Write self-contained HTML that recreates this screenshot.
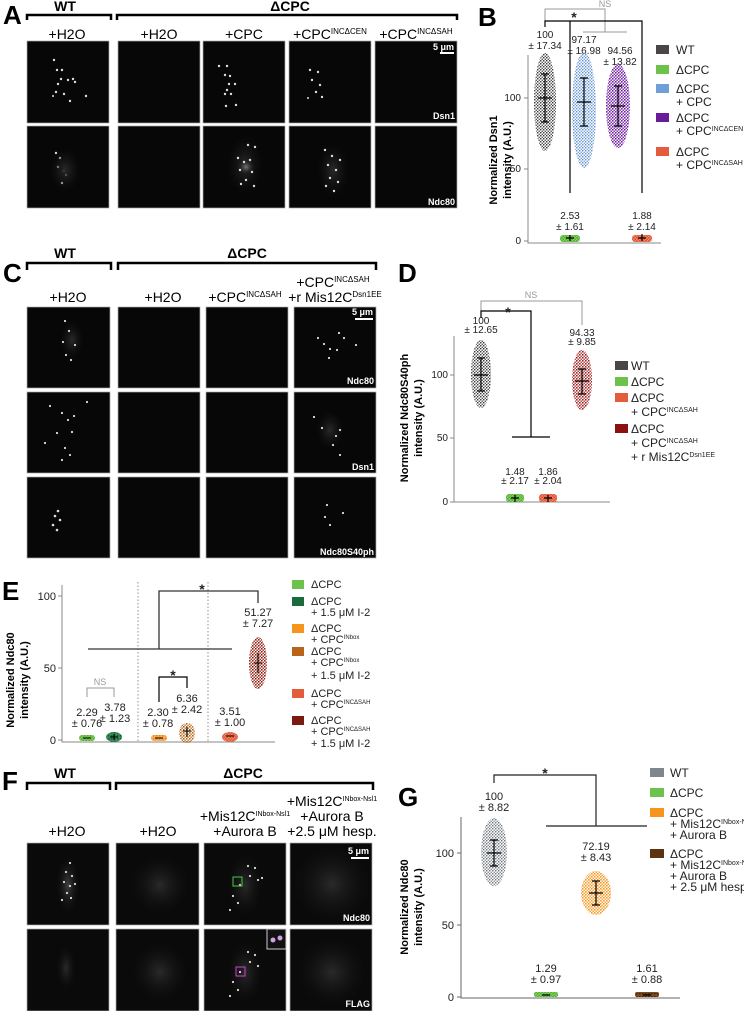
<!DOCTYPE html>
<html><head><meta charset="utf-8"><style>
html,body{margin:0;padding:0;background:#fff;}
svg{display:block;font-family:"Liberation Sans Narrow","Liberation Sans",sans-serif;}
</style></head><body>
<svg width="744" height="1011" viewBox="0 0 744 1011" xmlns="http://www.w3.org/2000/svg">
<defs>
<pattern id="pWT" width="3" height="3" patternUnits="userSpaceOnUse"><circle cx="0.75" cy="0.75" r="0.8" fill="#333"/><circle cx="2.25" cy="2.25" r="0.8" fill="#555"/></pattern>
<pattern id="pGR" width="3" height="3" patternUnits="userSpaceOnUse"><rect width="3" height="3" fill="#8ed06f"/><circle cx="0.75" cy="0.75" r="0.9" fill="#4fb02c"/><circle cx="2.25" cy="2.25" r="0.9" fill="#4fb02c"/></pattern>
<pattern id="pBL" width="3" height="3" patternUnits="userSpaceOnUse"><circle cx="0.75" cy="0.75" r="0.8" fill="#5b8fd0"/><circle cx="2.25" cy="2.25" r="0.8" fill="#7aa4dc"/></pattern>
<pattern id="pPU" width="3" height="3" patternUnits="userSpaceOnUse"><circle cx="0.75" cy="0.75" r="0.9" fill="#6a1b9a"/><circle cx="2.25" cy="2.25" r="0.9" fill="#8a3aba"/></pattern>
<pattern id="pOR" width="3" height="3" patternUnits="userSpaceOnUse"><rect width="3" height="3" fill="#f08a70"/><circle cx="0.75" cy="0.75" r="0.9" fill="#e0502e"/><circle cx="2.25" cy="2.25" r="0.9" fill="#e0502e"/></pattern>
<pattern id="pDR" width="3" height="3" patternUnits="userSpaceOnUse"><circle cx="0.75" cy="0.75" r="0.9" fill="#9a1f1f"/><circle cx="2.25" cy="2.25" r="0.9" fill="#c05050"/></pattern>
<pattern id="pDG" width="3" height="3" patternUnits="userSpaceOnUse"><rect width="3" height="3" fill="#3c8a5a"/><circle cx="0.75" cy="0.75" r="0.9" fill="#106030"/></pattern>
<pattern id="pIN" width="3" height="3" patternUnits="userSpaceOnUse"><rect width="3" height="3" fill="#fbb060"/><circle cx="0.75" cy="0.75" r="0.9" fill="#f08010"/></pattern>
<pattern id="pBR" width="3" height="3" patternUnits="userSpaceOnUse"><circle cx="0.75" cy="0.75" r="0.9" fill="#b0601a"/><circle cx="2.25" cy="2.25" r="0.9" fill="#d08a40"/></pattern>
<pattern id="pRB" width="3" height="3" patternUnits="userSpaceOnUse"><circle cx="0.75" cy="0.75" r="0.9" fill="#8a1a10"/><circle cx="2.25" cy="2.25" r="0.9" fill="#b04030"/></pattern>
<pattern id="pGG" width="3" height="3" patternUnits="userSpaceOnUse"><circle cx="0.75" cy="0.75" r="0.8" fill="#6a7078"/><circle cx="2.25" cy="2.25" r="0.8" fill="#8a9096"/></pattern>
<pattern id="pORG" width="3" height="3" patternUnits="userSpaceOnUse"><circle cx="0.75" cy="0.75" r="0.9" fill="#f7941d"/><circle cx="2.25" cy="2.25" r="0.9" fill="#f7a840"/></pattern>
<pattern id="pHB" width="3" height="3" patternUnits="userSpaceOnUse"><rect width="3" height="3" fill="#7a4a20"/><circle cx="0.75" cy="0.75" r="0.9" fill="#4a2808"/></pattern>
<radialGradient id="glow"><stop offset="0" stop-color="#777"/><stop offset="1" stop-color="#111" stop-opacity="0"/></radialGradient>
<radialGradient id="haze"><stop offset="0" stop-color="#2a2a2a"/><stop offset="1" stop-color="#111" stop-opacity="0"/></radialGradient>
</defs>

<g font-weight="bold" font-size="26" fill="#000" font-family="Liberation Sans, sans-serif">
<text x="3" y="24">A</text><text x="478" y="26">B</text><text x="3" y="282">C</text><text x="398" y="282">D</text><text x="2" y="600">E</text><text x="2" y="790">F</text><text x="398" y="806">G</text>
</g>

<!-- Panel A -->
<g font-size="14" text-anchor="middle">
<text x="65" y="11" font-weight="bold">WT</text><text x="290" y="11" font-weight="bold">ΔCPC</text>
<path d="M27 20 V15 H111 V20 M117 20 V15 H457 V20" fill="none" stroke="#000" stroke-width="2.5"/>
<text x="67" y="39">+H2O</text><text x="159" y="39">+H2O</text><text x="244" y="39">+CPC</text>
<text x="330" y="39">+CPC<tspan font-size="8" dy="-5">INCΔCEN</tspan></text>
<text x="416" y="39">+CPC<tspan font-size="8" dy="-5">INCΔSAH</tspan></text>
</g>
<g fill="#070707" stroke="#aaa" stroke-width="0.7">
<rect x="27" y="41" width="82" height="82"/><rect x="118" y="41" width="82" height="82"/><rect x="203" y="41" width="82" height="82"/><rect x="289" y="41" width="82" height="82"/><rect x="375" y="41" width="82" height="82"/>
<rect x="27" y="126" width="82" height="82"/><rect x="118" y="126" width="82" height="82"/><rect x="203" y="126" width="82" height="82"/><rect x="289" y="126" width="82" height="82"/><rect x="375" y="126" width="82" height="82"/>
</g>
<g fill="#ddd">
<circle cx="54" cy="60" r="1.2"/><circle cx="57" cy="70" r="1.2"/><circle cx="62" cy="70" r="1.2"/><circle cx="61" cy="79" r="1.2"/><circle cx="68" cy="80" r="1.2"/><circle cx="73" cy="79" r="1.2"/><circle cx="75" cy="82" r="1.2"/><circle cx="58" cy="84" r="1.2"/><circle cx="56" cy="92" r="1.2"/><circle cx="64" cy="94" r="1.2"/><circle cx="70" cy="101" r="1.2"/><circle cx="86" cy="96" r="1.2"/><circle cx="53" cy="96" r="1"/>
<circle cx="219" cy="66" r="1.2"/><circle cx="227" cy="66" r="1.2"/><circle cx="225" cy="75" r="1.2"/><circle cx="230" cy="76" r="1.2"/><circle cx="229" cy="84" r="1.2"/><circle cx="235" cy="84" r="1.2"/><circle cx="227" cy="90" r="1.2"/><circle cx="225" cy="94" r="1.2"/><circle cx="231" cy="94" r="1.2"/><circle cx="226" cy="106" r="1.2"/><circle cx="236" cy="105" r="1.2"/>
<circle cx="310" cy="70" r="1.2"/><circle cx="318" cy="72" r="1.2"/><circle cx="312" cy="80" r="1.2"/><circle cx="320" cy="85" r="1.2"/><circle cx="316" cy="92" r="1.2"/><circle cx="322" cy="97" r="1.2"/><circle cx="308" cy="98" r="1"/>
<circle cx="56" cy="153" r="1.2"/><circle cx="60" cy="158" r="1.2"/><circle cx="58" cy="167" r="1.2"/><circle cx="64" cy="171" r="1.2"/><circle cx="66" cy="175" r="1.2"/><circle cx="62" cy="183" r="1.2"/>
</g>
<ellipse cx="65" cy="170" rx="16" ry="22" fill="url(#haze)"/>
<ellipse cx="245" cy="165" rx="18" ry="30" fill="url(#haze)"/>
<ellipse cx="246" cy="167" rx="9" ry="8" fill="url(#glow)"/>
<ellipse cx="333" cy="170" rx="16" ry="28" fill="url(#haze)"/>
<g fill="#ddd">
<circle cx="238" cy="158" r="1.2"/><circle cx="244" cy="162" r="1.2"/><circle cx="250" cy="160" r="1.2"/><circle cx="240" cy="170" r="1.2"/><circle cx="252" cy="172" r="1.2"/><circle cx="246" cy="180" r="1.2"/><circle cx="254" cy="186" r="1.2"/><circle cx="241" cy="184" r="1.2"/><circle cx="248" cy="145" r="1.2"/><circle cx="255" cy="147" r="1.2"/>
<circle cx="325" cy="150" r="1.2"/><circle cx="332" cy="156" r="1.2"/><circle cx="328" cy="165" r="1.2"/><circle cx="336" cy="170" r="1.2"/><circle cx="330" cy="178" r="1.2"/><circle cx="338" cy="182" r="1.2"/><circle cx="326" cy="186" r="1.2"/><circle cx="334" cy="191" r="1.2"/><circle cx="340" cy="160" r="1.2"/>
</g>
<g fill="#fff" font-size="9" text-anchor="end" font-weight="bold">
<rect x="440" y="52" width="14" height="2"/><text x="454" y="50">5 μm</text>
<text x="455" y="119">Dsn1</text><text x="455" y="205">Ndc80</text>
</g>

<!-- Panel B -->
<g font-size="10" text-anchor="middle" fill="#222">
<path d="M545 21 V9 H605 V32 M583 32 H627" fill="none" stroke="#999" stroke-width="1"/>
<text x="605" y="7" fill="#999" font-size="9">NS</text>
<path d="M545 27 V21 H642 V193 M570 21 V193" fill="none" stroke="#000" stroke-width="1.2"/>
<text x="574" y="22" font-size="14" font-weight="bold">*</text>
<path d="M528 55 V243 H661" fill="none" stroke="#888" stroke-width="1"/>
<path d="M524 98 H528 M524 169 H528 M524 241 H528" stroke="#888"/>
<text x="521" y="101" text-anchor="end">100</text><text x="521" y="172" text-anchor="end">50</text><text x="521" y="244" text-anchor="end">0</text>
<text x="545" y="38">100</text><text x="545" y="49">± 17.34</text>
<text x="584" y="43">97.17</text><text x="584" y="54">± 16.98</text>
<text x="620" y="54">94.56</text><text x="620" y="65">± 13.82</text>
<text x="570" y="219">2.53</text><text x="570" y="230">± 1.61</text>
<text x="642" y="219">1.88</text><text x="642" y="230">± 2.14</text>
</g>
<ellipse cx="545" cy="102" rx="11" ry="49" fill="url(#pWT)"/>
<ellipse cx="584" cy="110" rx="12" ry="58" fill="url(#pBL)"/>
<ellipse cx="618" cy="106" rx="12" ry="42" fill="url(#pPU)"/>
<rect x="560" y="235" width="20" height="7" rx="3" fill="url(#pGR)"/>
<rect x="632" y="235" width="20" height="7" rx="3" fill="url(#pOR)"/>
<g stroke="#000" stroke-width="1.2" fill="none">
<path d="M545 74 V122 M541 74 H549 M541 122 H549 M538 98 H552"/>
<path d="M584 78 V126 M580 78 H588 M580 126 H588 M577 102 H591"/>
<path d="M618 86 V126 M614 86 H622 M614 126 H622 M611 106 H625"/>
<path d="M570 235 V241 M566 238 H574 M642 234 V241 M638 238 H646"/>
</g>
<g font-weight="bold" font-size="11" text-anchor="middle" font-family="Liberation Sans, sans-serif">
<text transform="translate(497,160) rotate(-90)">Normalized Dsn1</text>
<text transform="translate(511,160) rotate(-90)">intensity (A.U.)</text>
</g>
<g font-size="12" fill="#222">
<rect x="656" y="45" width="13" height="9" fill="#4a4548"/><text x="676" y="54">WT</text>
<rect x="656" y="65" width="13" height="9" fill="#6cc24a"/><text x="676" y="74">ΔCPC</text>
<rect x="656" y="84" width="13" height="9" fill="#6f9fd8"/><text x="676" y="93">ΔCPC</text><text x="676" y="106">+ CPC</text>
<rect x="656" y="113" width="13" height="9" fill="#6a1b9a"/><text x="676" y="122">ΔCPC</text><text x="676" y="135">+ CPC<tspan font-size="7" dy="-4">INCΔCEN</tspan></text>
<rect x="656" y="147" width="13" height="9" fill="#e35d3c"/><text x="676" y="156">ΔCPC</text><text x="676" y="169">+ CPC<tspan font-size="7" dy="-4">INCΔSAH</tspan></text>
</g>

<!-- Panel C -->
<g font-size="14" text-anchor="middle">
<text x="65" y="258" font-weight="bold">WT</text><text x="247" y="258" font-weight="bold">ΔCPC</text>
<path d="M27 270 V263 H111 V270 M118 270 V263 H376 V270" fill="none" stroke="#000" stroke-width="2.5"/>
<text x="68" y="302">+H2O</text><text x="163" y="302">+H2O</text>
<text x="245" y="302">+CPC<tspan font-size="8" dy="-5">INCΔSAH</tspan></text>
<text x="333" y="287">+CPC<tspan font-size="8" dy="-5">INCΔSAH</tspan></text>
<text x="335" y="302">+r Mis12C<tspan font-size="8" dy="-5">Dsn1EE</tspan></text>
</g>
<g fill="#070707" stroke="#aaa" stroke-width="0.7">
<rect x="27" y="307" width="83" height="81"/><rect x="118" y="307" width="82" height="81"/><rect x="206" y="307" width="82" height="81"/><rect x="294" y="307" width="82" height="81"/>
<rect x="27" y="392" width="83" height="81"/><rect x="118" y="392" width="82" height="81"/><rect x="206" y="392" width="82" height="81"/><rect x="294" y="392" width="82" height="81"/>
<rect x="27" y="477" width="83" height="81"/><rect x="118" y="477" width="82" height="81"/><rect x="206" y="477" width="82" height="81"/><rect x="294" y="477" width="82" height="81"/>
</g>
<ellipse cx="72" cy="340" rx="12" ry="20" fill="url(#haze)"/>
<ellipse cx="330" cy="430" rx="14" ry="20" fill="url(#haze)"/>
<g fill="#ddd">
<circle cx="65" cy="321" r="1.1"/><circle cx="69" cy="331" r="1.1"/><circle cx="63" cy="342" r="1.1"/><circle cx="75" cy="345" r="1.1"/><circle cx="66" cy="355" r="1.1"/><circle cx="71" cy="360" r="1.1"/>
<circle cx="318" cy="338" r="1.1"/><circle cx="324" cy="344" r="1.1"/><circle cx="339" cy="333" r="1.1"/><circle cx="344" cy="338" r="1.1"/><circle cx="330" cy="349" r="1.1"/><circle cx="337" cy="350" r="1.1"/><circle cx="329" cy="358" r="1.1"/><circle cx="356" cy="345" r="1.1"/>
<circle cx="50" cy="406" r="1.1"/><circle cx="62" cy="413" r="1.1"/><circle cx="68" cy="420" r="1.1"/><circle cx="74" cy="416" r="1.1"/><circle cx="87" cy="402" r="1.1"/><circle cx="57" cy="433" r="1.1"/><circle cx="72" cy="432" r="1.1"/><circle cx="45" cy="443" r="1.1"/><circle cx="65" cy="448" r="1.1"/><circle cx="70" cy="455" r="1.1"/><circle cx="62" cy="460" r="1.1"/>
<circle cx="314" cy="417" r="1.1"/><circle cx="322" cy="428" r="1.1"/><circle cx="336" cy="436" r="1.1"/><circle cx="340" cy="430" r="1.1"/><circle cx="333" cy="445" r="1.1"/><circle cx="340" cy="455" r="1.1"/>
<circle cx="58" cy="511" r="1.3"/><circle cx="55" cy="516" r="1.3"/><circle cx="60" cy="520" r="1.3"/><circle cx="53" cy="525" r="1.3"/><circle cx="57" cy="530" r="1.3"/>
<circle cx="327" cy="505" r="1.1"/><circle cx="325" cy="517" r="1.1"/><circle cx="330" cy="525" r="1.1"/><circle cx="343" cy="513" r="1.1"/>
</g>
<g fill="#fff" font-size="9" text-anchor="end" font-weight="bold">
<rect x="355" y="318" width="18" height="2"/><text x="373" y="315">5 μm</text>
<text x="374" y="384">Ndc80</text><text x="374" y="470">Dsn1</text><text x="374" y="555">Ndc80S40ph</text>
</g>

<!-- Panel D -->
<g font-size="10" text-anchor="middle" fill="#222">
<path d="M481 311 V301 H582 V325" fill="none" stroke="#999" stroke-width="1"/>
<text x="531" y="298" fill="#999" font-size="9">NS</text>
<path d="M481 318 V311 H531 V437 M512 437 H550" fill="none" stroke="#000" stroke-width="1.2"/>
<text x="508" y="317" font-size="14" font-weight="bold">*</text>
<path d="M454 336 V502 H610" fill="none" stroke="#888" stroke-width="1"/>
<path d="M450 375 H454 M450 438 H454 M450 502 H454" stroke="#888"/>
<text x="448" y="378" text-anchor="end">100</text><text x="448" y="441" text-anchor="end">50</text><text x="448" y="505" text-anchor="end">0</text>
<text x="481" y="324">100</text><text x="481" y="333">± 12.65</text>
<text x="582" y="336">94.33</text><text x="582" y="345">± 9.85</text>
<text x="515" y="475">1.48</text><text x="515" y="484">± 2.17</text>
<text x="548" y="475">1.86</text><text x="548" y="484">± 2.04</text>
</g>
<ellipse cx="481" cy="374" rx="10" ry="34" fill="url(#pWT)"/>
<ellipse cx="582" cy="380" rx="10" ry="30" fill="url(#pDR)"/>
<rect x="506" y="494" width="18" height="8" rx="3" fill="url(#pGR)"/>
<rect x="539" y="494" width="18" height="8" rx="3" fill="url(#pOR)"/>
<g stroke="#000" stroke-width="1.2" fill="none">
<path d="M481 358 V391 M477 358 H485 M477 391 H485 M474 375 H488"/>
<path d="M582 369 V394 M578 369 H586 M578 394 H586 M575 381 H589"/>
<path d="M515 495 V502 M511 498 H519 M548 495 V502 M544 498 H552"/>
</g>
<g font-weight="bold" font-size="11" text-anchor="middle" font-family="Liberation Sans, sans-serif">
<text transform="translate(408,418) rotate(-90)">Normalized Ndc80S40ph</text>
<text transform="translate(422,418) rotate(-90)">intensity (A.U.)</text>
</g>
<g font-size="12" fill="#222">
<rect x="615" y="361" width="13" height="9" fill="#4a4548"/><text x="631" y="370">WT</text>
<rect x="615" y="377" width="13" height="9" fill="#6cc24a"/><text x="631" y="386">ΔCPC</text>
<rect x="615" y="393" width="13" height="9" fill="#e35d3c"/><text x="631" y="402">ΔCPC</text><text x="631" y="416">+ CPC<tspan font-size="7" dy="-4">INCΔSAH</tspan></text>
<rect x="615" y="424" width="13" height="9" fill="#8b1010"/><text x="631" y="433">ΔCPC</text><text x="631" y="447">+ CPC<tspan font-size="7" dy="-4">INCΔSAH</tspan></text><text x="631" y="461">+ r Mis12C<tspan font-size="7" dy="-4">Dsn1EE</tspan></text>
</g>

<!-- Panel E -->
<g font-size="11" text-anchor="middle" fill="#222">
<path d="M138 582 V741 M208 582 V741" stroke="#777" stroke-width="0.8" stroke-dasharray="1.5,2"/>
<path d="M62 585 V742 H275" fill="none" stroke="#888" stroke-width="1"/>
<path d="M58 596 H62 M58 668 H62 M58 740 H62" stroke="#888"/>
<text x="56" y="600" text-anchor="end">100</text><text x="56" y="672" text-anchor="end">50</text><text x="56" y="744" text-anchor="end">0</text>
<path d="M88 649 H232 M159 649 V591 H258 V603" fill="none" stroke="#333" stroke-width="1.3"/>
<text x="202" y="594" font-size="14" font-weight="bold">*</text>
<path d="M159 702 V677 H187 V688" fill="none" stroke="#000" stroke-width="1.2"/>
<text x="173" y="680" font-size="14" font-weight="bold">*</text>
<path d="M87 697 V688 H114 V697" fill="none" stroke="#999" stroke-width="1"/>
<text x="100" y="685" fill="#999" font-size="9">NS</text>
<text x="87" y="716">2.29</text><text x="87" y="727">± 0.76</text>
<text x="115" y="711">3.78</text><text x="115" y="722">± 1.23</text>
<text x="158" y="716">2.30</text><text x="158" y="727">± 0.78</text>
<text x="187" y="702">6.36</text><text x="187" y="713">± 2.42</text>
<text x="230" y="715">3.51</text><text x="230" y="726">± 1.00</text>
<text x="258" y="616">51.27</text><text x="258" y="627">± 7.27</text>
</g>
<rect x="79" y="735" width="16" height="6" rx="3" fill="url(#pGR)"/>
<ellipse cx="114" cy="737" rx="8" ry="5" fill="url(#pDG)"/>
<rect x="151" y="735" width="16" height="6" rx="3" fill="url(#pIN)"/>
<ellipse cx="187" cy="733" rx="8" ry="10" fill="url(#pBR)"/>
<ellipse cx="230" cy="737" rx="8" ry="5" fill="url(#pOR)"/>
<ellipse cx="258" cy="663" rx="9" ry="26" fill="url(#pRB)"/>
<g stroke="#000" stroke-width="1.1" fill="none">
<path d="M83 738 H91 M110 737 H118 M114 734 V740 M155 738 H163 M187 727 V737 M183 731 H191 M226 736 H234 M258 653 V673 M254 663 H262"/>
</g>
<g font-weight="bold" font-size="11" text-anchor="middle" font-family="Liberation Sans, sans-serif">
<text transform="translate(14,680) rotate(-90)">Normalized Ndc80</text>
<text transform="translate(28,680) rotate(-90)">intensity (A.U.)</text>
</g>
<g font-size="11" fill="#222">
<rect x="292" y="580" width="12" height="9" fill="#6cc24a"/><text x="311" y="588">ΔCPC</text>
<rect x="292" y="597" width="12" height="9" fill="#1a6b3a"/><text x="311" y="605">ΔCPC</text><text x="311" y="616">+ 1.5 μM I-2</text>
<rect x="292" y="624" width="12" height="9" fill="#f7941d"/><text x="311" y="632">ΔCPC</text><text x="311" y="643">+ CPC<tspan font-size="6" dy="-4">INbox</tspan></text>
<rect x="292" y="647" width="12" height="9" fill="#b8651a"/><text x="311" y="655">ΔCPC</text><text x="311" y="666">+ CPC<tspan font-size="6" dy="-4">INbox</tspan></text><text x="311" y="679">+ 1.5 μM I-2</text>
<rect x="292" y="689" width="12" height="9" fill="#e35d3c"/><text x="311" y="697">ΔCPC</text><text x="311" y="708">+ CPC<tspan font-size="6" dy="-4">INCΔSAH</tspan></text>
<rect x="292" y="716" width="12" height="9" fill="#7a1a10"/><text x="311" y="724">ΔCPC</text><text x="311" y="735">+ CPC<tspan font-size="6" dy="-4">INCΔSAH</tspan></text><text x="311" y="747">+ 1.5 μM I-2</text>
</g>

<!-- Panel F -->
<g font-size="14" text-anchor="middle">
<text x="65" y="778" font-weight="bold">WT</text><text x="243" y="778" font-weight="bold">ΔCPC</text>
<path d="M27 790 V783 H110 V790 M116 790 V783 H373 V790" fill="none" stroke="#000" stroke-width="2.5"/>
<text x="67" y="836">+H2O</text><text x="158" y="836">+H2O</text>
<text x="245" y="821">+Mis12C<tspan font-size="7" dy="-5">INbox-Nsl1</tspan></text>
<text x="245" y="836">+Aurora B</text>
<text x="332" y="806">+Mis12C<tspan font-size="7" dy="-5">INbox-Nsl1</tspan></text>
<text x="332" y="821">+Aurora B</text>
<text x="332" y="836">+2.5 μM hesp.</text>
</g>
<g fill="#0a0a0a" stroke="#aaa" stroke-width="0.7">
<rect x="27" y="843" width="82" height="82"/><rect x="116" y="843" width="83" height="82"/><rect x="204" y="843" width="82" height="82"/><rect x="290" y="843" width="82" height="82"/>
<rect x="27" y="929" width="82" height="82"/><rect x="116" y="929" width="83" height="82"/><rect x="204" y="929" width="82" height="82"/><rect x="290" y="929" width="82" height="82"/>
</g>
<ellipse cx="160" cy="885" rx="30" ry="30" fill="url(#haze)"/>
<ellipse cx="332" cy="884" rx="40" ry="40" fill="url(#haze)"/>
<ellipse cx="160" cy="972" rx="28" ry="30" fill="url(#haze)"/>
<ellipse cx="332" cy="972" rx="35" ry="35" fill="url(#haze)"/>
<ellipse cx="66" cy="968" rx="10" ry="22" fill="url(#haze)"/>
<ellipse cx="68" cy="885" rx="12" ry="30" fill="url(#glow)" opacity="0.5"/>
<ellipse cx="245" cy="885" rx="18" ry="32" fill="url(#haze)"/>
<ellipse cx="245" cy="972" rx="18" ry="32" fill="url(#haze)"/>
<g fill="#ddd">
<circle cx="70" cy="863" r="1.1"/><circle cx="66" cy="872" r="1.1"/><circle cx="72" cy="876" r="1.1"/><circle cx="64" cy="882" r="1.1"/><circle cx="70" cy="886" r="1.1"/><circle cx="75" cy="884" r="1.1"/><circle cx="67" cy="893" r="1.1"/><circle cx="71" cy="898" r="1.1"/><circle cx="62" cy="900" r="1.1"/>
<circle cx="248" cy="866" r="1.1"/><circle cx="255" cy="868" r="1.1"/><circle cx="250" cy="876" r="1.1"/><circle cx="258" cy="880" r="1.1"/><circle cx="240" cy="885" r="1.1"/><circle cx="233" cy="896" r="1.1"/><circle cx="238" cy="903" r="1.1"/><circle cx="230" cy="910" r="1.1"/><circle cx="262" cy="878" r="1.1"/>
<circle cx="248" cy="952" r="1.1"/><circle cx="255" cy="955" r="1.1"/><circle cx="250" cy="962" r="1.1"/><circle cx="258" cy="966" r="1.1"/><circle cx="240" cy="972" r="1.1"/><circle cx="233" cy="982" r="1.1"/><circle cx="238" cy="990" r="1.1"/><circle cx="230" cy="996" r="1.1"/>
</g>
<rect x="233" y="877" width="9" height="9" fill="none" stroke="#4c4" stroke-width="1"/>
<rect x="236" y="967" width="9" height="9" fill="none" stroke="#c4c" stroke-width="1"/>
<rect x="267" y="929" width="19" height="20" fill="#111" stroke="#ccc" stroke-width="1"/>
<circle cx="273" cy="940" r="2.5" fill="#d0a0e0"/><circle cx="280" cy="938" r="2.5" fill="#d0a0e0"/>
<g fill="#fff" font-size="9" text-anchor="end" font-weight="bold">
<rect x="351" y="857" width="18" height="2"/><text x="369" y="854">5 μm</text>
<text x="370" y="921">Ndc80</text><text x="370" y="1007">FLAG</text>
</g>

<!-- Panel G -->
<g font-size="11" text-anchor="middle" fill="#222">
<path d="M494 783 V775 H596 V826 M546 826 H647" fill="none" stroke="#222" stroke-width="1.2"/>
<text x="545" y="778" font-size="14" font-weight="bold">*</text>
<path d="M461 817 V998 H680" fill="none" stroke="#666" stroke-width="1"/>
<path d="M457 853 H461 M457 925 H461 M457 997 H461" stroke="#666"/>
<text x="454" y="857" text-anchor="end">100</text><text x="454" y="929" text-anchor="end">50</text><text x="454" y="1001" text-anchor="end">0</text>
<text x="494" y="800">100</text><text x="494" y="811">± 8.82</text>
<text x="596" y="850">72.19</text><text x="596" y="861">± 8.43</text>
<text x="546" y="972">1.29</text><text x="546" y="983">± 0.97</text>
<text x="647" y="972">1.61</text><text x="647" y="983">± 0.88</text>
</g>
<ellipse cx="494" cy="852" rx="13" ry="34" fill="url(#pGG)"/>
<ellipse cx="596" cy="893" rx="15" ry="22" fill="url(#pORG)"/>
<rect x="534" y="992" width="24" height="5" rx="2" fill="url(#pGR)"/>
<rect x="635" y="992" width="24" height="5" rx="2" fill="url(#pHB)"/>
<g stroke="#000" stroke-width="1.2" fill="none">
<path d="M494 840 V866 M490 840 H498 M490 866 H498 M487 853 H501"/>
<path d="M596 881 V905 M592 881 H600 M592 905 H600 M589 893 H603"/>
<path d="M542 995 H550 M643 995 H651"/>
</g>
<g font-weight="bold" font-size="11" text-anchor="middle" font-family="Liberation Sans, sans-serif">
<text transform="translate(408,907) rotate(-90)">Normalized Ndc80</text>
<text transform="translate(422,907) rotate(-90)">intensity (A.U.)</text>
</g>
<g font-size="12" fill="#222">
<rect x="650" y="768" width="14" height="9" fill="#7f878d"/><text x="670" y="777">WT</text>
<rect x="650" y="788" width="14" height="9" fill="#6cc24a"/><text x="670" y="797">ΔCPC</text>
<rect x="650" y="808" width="14" height="9" fill="#f7941d"/><text x="670" y="817">ΔCPC</text><text x="670" y="828">+ Mis12C<tspan font-size="7" dy="-4">INbox-Nsl1</tspan></text><text x="670" y="839">+ Aurora B</text>
<rect x="650" y="849" width="14" height="9" fill="#5b3310"/><text x="670" y="858">ΔCPC</text><text x="670" y="869">+ Mis12C<tspan font-size="7" dy="-4">INbox-Nsl1</tspan></text><text x="670" y="880">+ Aurora B</text><text x="670" y="891">+ 2.5 μM hesp.</text>
</g>
</svg>
</body></html>
